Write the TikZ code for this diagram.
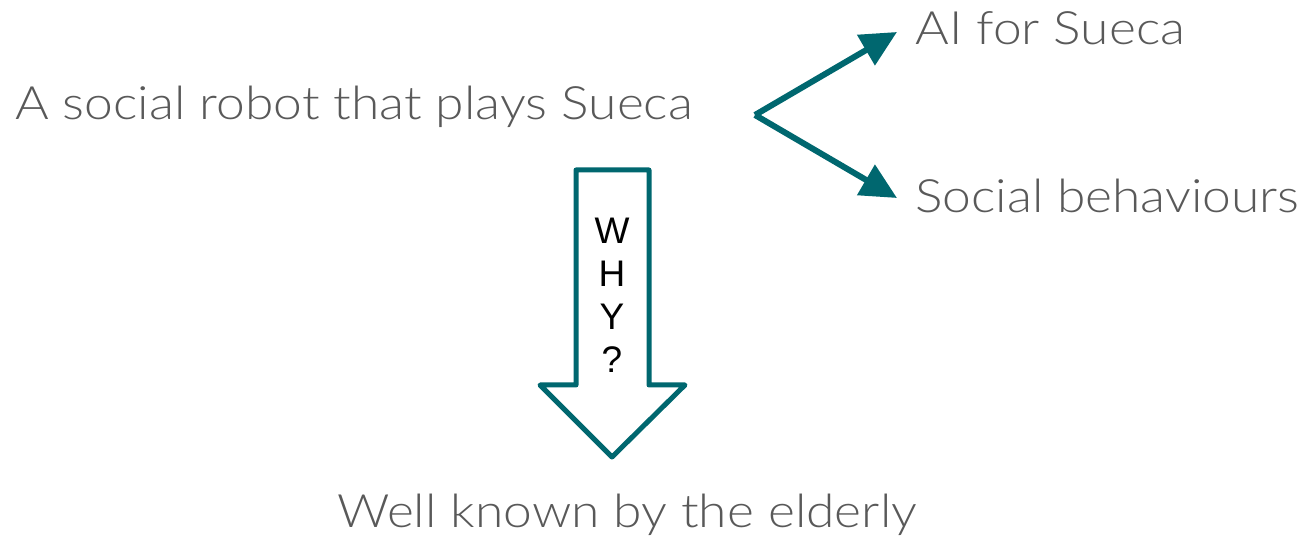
\documentclass[tikz,border=0pt]{standalone}
\usepackage{fontspec}
\setmainfont{Lato Light}[FakeStretch=1.12]
\newfontfamily\whyfont{Liberation Sans}
\usetikzlibrary{arrows.meta}
\definecolor{teal}{HTML}{00676F}
\definecolor{txtgray}{HTML}{595959}
\begin{document}
\begin{tikzpicture}[x=1pt,y=-1pt,
  label text/.style={inner sep=0pt, anchor=base west, text=txtgray,
    font=\fontsize{46}{50}\selectfont},
  fork arrow/.style={draw=teal, line width=6pt,
    -{Triangle[length=36pt,width=34pt]}},
  block arrow/.style={draw=teal, fill=white, line width=5pt, line join=round}]
\useasboundingbox (0,0) rectangle (1310,537);

% statements
\node[label text] (robot) at (15,120) {A social robot that plays Sueca};
\node[label text] (ai) at (915,45) {AI for Sueca};
\node[label text] (social) at (915,213) {Social behaviours};
\node[label text] (elderly) at (337,527) {Well known by the elderly};

% fork towards the two research areas
\coordinate (fork) at (755,115);
\coordinate (aitip) at (897,32);
\coordinate (socialtip) at (897,198);
\draw[fork arrow] (fork) -- (aitip);
\draw[fork arrow] (fork) -- (socialtip);

% hollow down arrow with the question
\draw[block arrow] (576,170) -- (649,170) -- (649,385) -- (685,385)
  -- (612,457) -- (540,385) -- (576,385) -- cycle;
\node[inner sep=0pt, align=center, font=\whyfont\fontsize{37}{43}\selectfont]
  (why) at (612,295) {W\\H\\Y\\?};
\end{tikzpicture}
\end{document}
